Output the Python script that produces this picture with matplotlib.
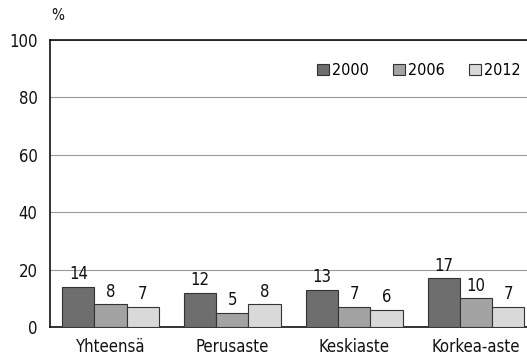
import matplotlib
matplotlib.use("Agg")
import matplotlib.pyplot as plt
import numpy as np

categories = ["Yhteensä", "Perusaste", "Keskiaste", "Korkea-aste"]
years = ["2000", "2006", "2012"]
v2000 = [14, 12, 13, 17]
v2006 = [8, 5, 7, 10]
v2012 = [7, 8, 6, 7]
yticks = [0, 20, 40, 60, 80, 100]

plt.rcParams["font.family"] = ["DejaVu Sans"]
plt.rcParams["font.stretch"] = "condensed"

fig = plt.figure(figsize=(5.27, 3.61), dpi=100)
ax = fig.add_axes([50/527, 1 - 327/361, 1 - 50/527 + 0.01, (327 - 40)/361])

colors = ["#6e6e6e", "#a3a3a3", "#d9d9d9"]
w = 0.264
x = np.arange(len(categories))
series = [v2000, v2006, v2012]
for i, (vals, c, yr) in enumerate(zip(series, colors, years)):
    bars = ax.bar(x + (i - 1) * w, vals, w, color=c, edgecolor="#333333",
                  linewidth=0.8, label=yr, zorder=3)
    for b, v in zip(bars, vals):
        ax.annotate(str(v), (b.get_x() + b.get_width() / 2, v),
                    xytext=(0, 2.5), textcoords="offset points",
                    ha="center", va="bottom", fontsize=12, color="#111111")

ax.set_ylim(0, 100)
ax.set_xlim(-0.496, 3.46)
ax.set_yticks(yticks)
ax.set_xticks(x)
ax.set_xticklabels(categories)
ax.tick_params(axis="both", length=0, labelsize=12, colors="#111111")
ax.tick_params(axis="y", pad=9)
ax.tick_params(axis="x", pad=8)
ax.yaxis.grid(True, color="#999999", linewidth=0.8, zorder=0)
ax.set_axisbelow(True)
for s in ["left", "top", "bottom"]:
    ax.spines[s].set_color("#111111")
    ax.spines[s].set_linewidth(1.2)
ax.spines["right"].set_visible(False)

fig.text(58/527, 1 - 15/361, "%", fontsize=11, ha="center", va="center", color="#111111")

leg = ax.legend(loc="upper right", bbox_to_anchor=(1.005, 0.97), ncol=3, frameon=False,
                handlelength=0.75, handleheight=0.75, handletextpad=0.15,
                columnspacing=1.55, fontsize=11.5)

fig.savefig("out.png", dpi=100)
